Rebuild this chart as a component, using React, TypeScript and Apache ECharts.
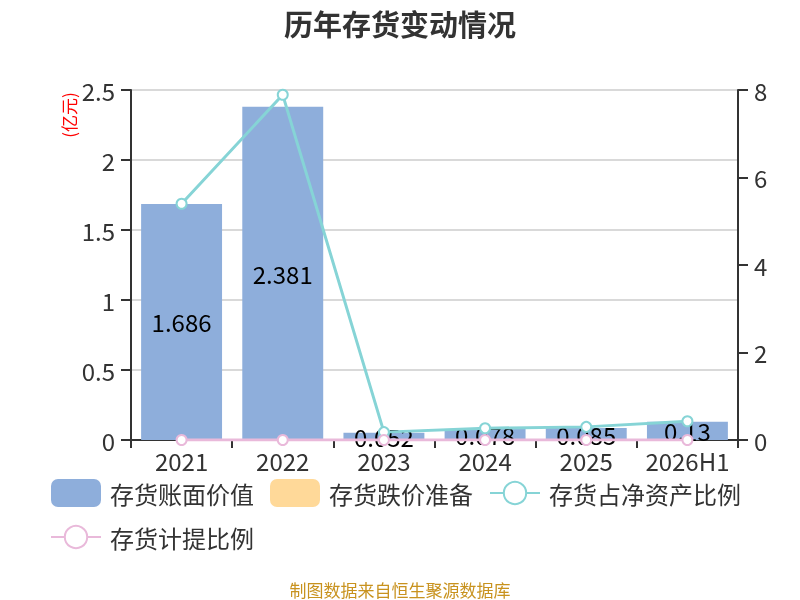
import React, { useEffect, useRef } from "react";
import * as echarts from "echarts";

const categories = ["2021", "2022", "2023", "2024", "2025", "2026H1"];
const bookValue = [1.686, 2.381, 0.052, 0.078, 0.085, 0.13];
const impairment = [0, 0, 0, 0, 0, 0];
const netAssetRatio = [5.4, 7.89, 0.18, 0.27, 0.3, 0.43];
const provisionRatio = [0, 0, 0, 0, 0, 0];

const FONT = "'Noto Sans CJK SC', 'Noto Sans', sans-serif";

export default function App() {
  const ref = useRef<HTMLDivElement>(null);
  useEffect(() => {
    if (!ref.current) return;
    const chart = echarts.init(ref.current, undefined, { renderer: "svg" });
    chart.setOption({
      animation: false,
      textStyle: { fontFamily: FONT },
      title: {
        text: "历年存货变动情况",
        left: "center",
        top: 3,
        textStyle: { fontSize: 29, fontWeight: "bold", color: "#333", fontFamily: FONT },
      },
      graphic: [
        {
          type: "text",
          x: 68,
          y: 115,
          rotation: Math.PI / 2,
          style: {
            text: "(亿元)",
            fill: "#ff0000",
            fontSize: 17,
            fontFamily: FONT,
            textAlign: "center",
            textVerticalAlign: "middle",
          },
        },
        {
          type: "text",
          x: 400,
          y: 589,
          style: {
            text: "制图数据来自恒生聚源数据库",
            fill: "#c8921e",
            fontSize: 17,
            fontFamily: FONT,
            textAlign: "center",
            textVerticalAlign: "middle",
          },
        },
      ],
      legend: {
        left: 45,
        right: 25,
        top: 474,
        itemWidth: 50,
        itemHeight: 28,
        itemGap: 16,
        textStyle: {
          fontSize: 24,
          color: "#333",
          fontFamily: FONT,
          padding: [0, 4, 0, 4],
        },
        data: [
          { name: "存货账面价值" },
          { name: "存货跌价准备" },
          { name: "存货占净资产比例" },
          { name: "存货计提比例" },
        ],
      },
      grid: { left: 131, right: 62, top: 90, bottom: 160 },
      xAxis: {
        type: "category",
        data: categories,
        axisLine: { lineStyle: { color: "#333", width: 2 } },
        axisTick: { show: true, length: 8, lineStyle: { color: "#333", width: 2 } },
        axisLabel: { fontSize: 24, color: "#333", margin: 8, interval: 0, fontFamily: FONT },
      },
      yAxis: [
        {
          type: "value",
          min: 0,
          max: 2.5,
          interval: 0.5,
          axisLine: { show: true, lineStyle: { color: "#333", width: 2 } },
          axisTick: { show: true, length: 10, lineStyle: { color: "#333", width: 2 } },
          axisLabel: { fontSize: 24, color: "#333", margin: 16, fontFamily: FONT },
          splitLine: { lineStyle: { color: "#ccc", width: 1.5 } },
        },
        {
          type: "value",
          min: 0,
          max: 8,
          interval: 2,
          axisLine: { show: true, lineStyle: { color: "#333", width: 2 } },
          axisTick: { show: true, length: 10, lineStyle: { color: "#333", width: 2 } },
          axisLabel: { fontSize: 24, color: "#333", margin: 16, fontFamily: FONT },
          splitLine: { show: false },
        },
      ],
      series: [
        {
          name: "存货账面价值",
          type: "bar",
          stack: "inv",
          data: bookValue,
          barWidth: "80%",
          itemStyle: { color: "#8eaedb" },
          label: {
            show: true,
            position: "inside",
            fontSize: 24,
            color: "#000",
            fontFamily: FONT,
          },
        },
        {
          name: "存货跌价准备",
          type: "bar",
          stack: "inv",
          data: impairment,
          barWidth: "80%",
          itemStyle: { color: "#ffd999" },
        },
        {
          name: "存货占净资产比例",
          type: "line",
          yAxisIndex: 1,
          data: netAssetRatio,
          symbol: "emptyCircle",
          symbolSize: 10,
          lineStyle: { color: "#86d4d6", width: 3 },
          itemStyle: { color: "#86d4d6", borderWidth: 2 },
        },
        {
          name: "存货计提比例",
          type: "line",
          yAxisIndex: 1,
          data: provisionRatio,
          symbol: "emptyCircle",
          symbolSize: 10,
          lineStyle: { color: "#e9b9da", width: 3 },
          itemStyle: { color: "#e9b9da", borderWidth: 2 },
        },
      ],
    });
    return () => chart.dispose();
  }, []);
  return (
    <div
      ref={ref}
      style={{ position: "fixed", left: 0, top: 0, width: 800, height: 600 }}
    />
  );
}
